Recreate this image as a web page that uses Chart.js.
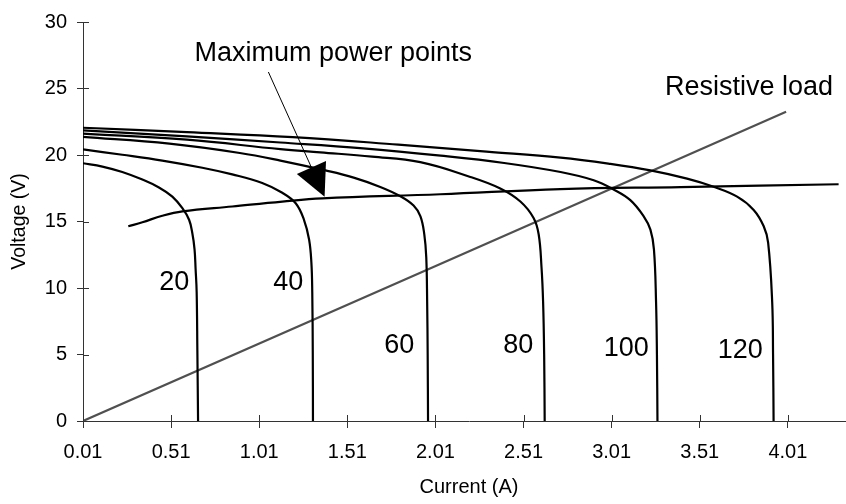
<!DOCTYPE html>
<html>
<head>
<meta charset="utf-8">
<script src="https://cdn.jsdelivr.net/npm/chart.js@4.4.0/dist/chart.umd.min.js"></script>
<style>
  html, body { margin: 0; padding: 0; background: #fff; overflow: hidden; }
  canvas { display: block; }
</style>
</head>
<body>
<canvas id="ivChart" width="856" height="504"></canvas>
<script>
  // irradiance levels, one I-V curve each
  const levels = ['20', '40', '60', '80', '100', '120'];

  const i20 = [0.01, 0.12, 0.233, 0.347, 0.441, 0.517, 0.574, 0.612, 0.630, 0.643, 0.649, 0.655, 0.659, 0.663];
  const v20 = [19.38, 19.13, 18.72, 18.15, 17.56, 16.87, 16.0, 15.13, 14.15, 12.91, 11.43, 9.70, 5.3, 0];

  const i40 = [0.01, 0.233, 0.46, 0.687, 0.857, 1.027, 1.141, 1.217, 1.264, 1.293, 1.306, 1.311, 1.314, 1.315];
  const v40 = [20.42, 20.02, 19.58, 19.04, 18.54, 17.90, 17.16, 16.37, 15.13, 13.65, 11.93, 9.70, 5.0, 0];

  const i60 = [0.01, 0.5, 0.9, 1.13, 1.386, 1.546, 1.697, 1.811, 1.886, 1.925, 1.947, 1.958, 1.963, 1.966, 1.968];
  const v60 = [21.36, 20.85, 20.15, 19.58, 18.84, 18.3, 17.6, 16.9, 16.2, 15.39, 14.02, 12.3, 9.0, 5.0, 0];

  const i80 = [0.01, 0.6, 1.13, 1.357, 1.65, 1.924, 2.208, 2.378, 2.492, 2.567, 2.596, 2.612, 2.621, 2.627, 2.63];
  const v80 = [21.6, 21.15, 20.44, 20.2, 19.88, 19.46, 18.35, 17.48, 16.5, 15.26, 14.02, 11.56, 8.96, 5.0, 0];

  const i100 = [0.01, 0.6, 1.13, 1.6, 2.04, 2.4, 2.72, 2.908, 3.021, 3.116, 3.192, 3.23, 3.250, 3.262, 3.267, 3.27];
  const v100 = [21.85, 21.4, 20.94, 20.5, 19.95, 19.4, 18.72, 18.1, 17.41, 16.61, 15.39, 14.39, 12.9, 8.96, 5.0, 0];

  const i120 = [0.01, 0.6, 1.2, 1.8, 2.3, 2.72, 3.003, 3.23, 3.438, 3.589, 3.722, 3.816, 3.873, 3.898, 3.921, 3.926, 3.929];
  const v120 = [22.05, 21.72, 21.35, 20.78, 20.25, 19.8, 19.33, 18.84, 18.22, 17.61, 16.87, 15.87, 14.64, 13.41, 8.96, 5.0, 0];

  // maximum power point locus
  const mppI = [0.267, 0.347, 0.46, 0.574, 0.857, 1.141, 1.368, 2.038, 2.72, 3.401, 4.298];
  const mppV = [14.64, 14.94, 15.43, 15.76, 16.13, 16.5, 16.74, 17.05, 17.44, 17.59, 17.8];

  // resistive load line
  const loadI = [0.01, 4.0];
  const loadV = [0, 23.25];

  const xTicks = [0.01, 0.51, 1.01, 1.51, 2.01, 2.51, 3.01, 3.51, 4.01];
  const yTicks = [0, 5, 10, 15, 20, 25, 30];

  const curvesI = [i20, i40, i60, i80, i100, i120];
  const curvesV = [v20, v40, v60, v80, v100, v120];

  // where the text notes sit, in data units
  const levelLabelAt = [[0.528, 10.44], [1.175, 10.44], [1.805, 5.70], [2.48, 5.70], [3.093, 5.48], [3.74, 5.26]];
  const notes = [
    { text: 'Maximum power points', at: [1.43, 27.63] },
    { text: 'Resistive load', at: [3.789, 25.04] }
  ];
  const arrowFrom = [1.062, 26.24];
  const arrowTo = [1.381, 16.87];

  const FONT = '"Liberation Sans", Arial, sans-serif';

  function pts(xs, ys) {
    return xs.map((x, k) => ({ x: x, y: ys[k] }));
  }

  const datasets = curvesI.map((xs, k) => ({
    label: levels[k],
    data: pts(xs, curvesV[k]),
    borderColor: '#000',
    borderWidth: 2.2
  }));
  datasets.push({ label: 'MPP', data: pts(mppI, mppV), borderColor: '#000', borderWidth: 2.2 });
  datasets.push({ label: 'Load', data: pts(loadI, loadV), borderColor: '#505050', borderWidth: 2.2 });

  // ticks in Excel style cross the axis, Chart.js only draws the outer half
  const innerTicks = {
    id: 'innerTicks',
    afterDraw(chart) {
      const ctx = chart.ctx;
      const xs = chart.scales.x, ys = chart.scales.y;
      const area = chart.chartArea;
      ctx.save();
      ctx.strokeStyle = '#333';
      ctx.lineWidth = 1;
      ctx.beginPath();
      xTicks.forEach(v => {
        const px = Math.round(xs.getPixelForValue(v)) + 0.5;
        ctx.moveTo(px, area.bottom);
        ctx.lineTo(px, area.bottom - 6);
      });
      yTicks.forEach(v => {
        const py = Math.round(ys.getPixelForValue(v)) + 0.5;
        ctx.moveTo(area.left, py);
        ctx.lineTo(area.left + 6, py);
      });
      ctx.stroke();
      ctx.restore();
    }
  };

  const annotations = {
    id: 'annotations',
    afterDatasetsDraw(chart) {
      const ctx = chart.ctx;
      const xs = chart.scales.x, ys = chart.scales.y;
      const P = a => [xs.getPixelForValue(a[0]), ys.getPixelForValue(a[1])];
      ctx.save();
      ctx.fillStyle = '#000';
      ctx.font = '27px ' + FONT;
      ctx.textAlign = 'center';
      ctx.textBaseline = 'middle';
      levels.forEach((t, k) => {
        const p = P(levelLabelAt[k]);
        ctx.fillText(t, p[0], p[1]);
      });
      notes.forEach(n => {
        const p = P(n.at);
        ctx.fillText(n.text, p[0], p[1]);
      });

      // arrow to the mpp line
      const a = P(arrowFrom), b = P(arrowTo);
      const dx = b[0] - a[0], dy = b[1] - a[1];
      const len = Math.hypot(dx, dy);
      const ux = dx / len, uy = dy / len;
      const headLen = 32, headHalf = 16;
      const mx = b[0] - ux * headLen, my = b[1] - uy * headLen;
      ctx.strokeStyle = '#000';
      ctx.lineWidth = 1;
      ctx.beginPath();
      ctx.moveTo(a[0], a[1]);
      ctx.lineTo(mx, my);
      ctx.stroke();
      ctx.beginPath();
      ctx.moveTo(b[0], b[1]);
      ctx.lineTo(mx - uy * headHalf, my + ux * headHalf);
      ctx.lineTo(mx + uy * headHalf, my - ux * headHalf);
      ctx.closePath();
      ctx.fill();
      ctx.restore();
    }
  };

  new Chart(document.getElementById('ivChart'), {
    type: 'scatter',
    data: { datasets: datasets },
    options: {
      responsive: false,
      animation: false,
      showLine: true,
      layout: { padding: { top: 16, right: 1, left: 0, bottom: 0 } },
      elements: {
        point: { radius: 0, hoverRadius: 0 },
        line: { tension: 0.4, fill: false }
      },
      plugins: {
        legend: { display: false },
        tooltip: { enabled: false }
      },
      scales: {
        x: {
          type: 'linear',
          min: 0.01,
          max: 4.391,
          afterBuildTicks: scale => { scale.ticks = xTicks.map(v => ({ value: v })); },
          afterFit: scale => { scale.height = 83; },
          ticks: {
            callback: v => v.toFixed(2),
            font: { family: FONT, size: 20 },
            color: '#000',
            padding: 12,
            maxRotation: 0,
            autoSkip: false
          },
          grid: { drawOnChartArea: false, tickLength: 7, color: '#333' },
          border: { color: '#333', width: 1 },
          title: {
            display: true,
            text: 'Current (A)',
            font: { family: FONT, size: 20 },
            color: '#000',
            padding: { top: 0, bottom: 5 }
          }
        },
        y: {
          min: 0,
          max: 30,
          afterBuildTicks: scale => { scale.ticks = yTicks.map(v => ({ value: v })); },
          afterFit: scale => { scale.width = 83; },
          ticks: {
            font: { family: FONT, size: 20 },
            color: '#000',
            padding: 10
          },
          grid: { drawOnChartArea: false, tickLength: 6, color: '#333' },
          border: { color: '#333', width: 1 },
          title: {
            display: true,
            text: 'Voltage (V)',
            font: { family: FONT, size: 19.5 },
            color: '#000',
            padding: { top: 8, bottom: 0 }
          }
        }
      }
    },
    plugins: [innerTicks, annotations]
  });
</script>
</body>
</html>
